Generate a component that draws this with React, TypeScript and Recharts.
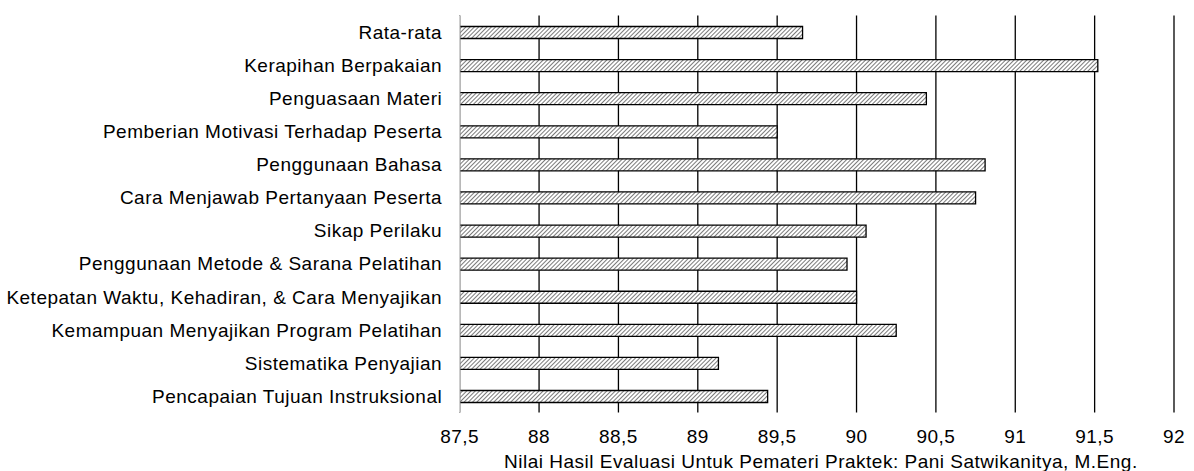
import React from 'react';
import {
  BarChart,
  Bar,
  XAxis,
  YAxis,
  CartesianGrid,
} from 'recharts';

const categories = [
  'Rata-rata',
  'Kerapihan Berpakaian',
  'Penguasaan Materi',
  'Pemberian Motivasi Terhadap Peserta',
  'Penggunaan Bahasa',
  'Cara Menjawab Pertanyaan Peserta',
  'Sikap Perilaku',
  'Penggunaan Metode & Sarana Pelatihan',
  'Ketepatan Waktu, Kehadiran, & Cara Menyajikan',
  'Kemampuan Menyajikan Program Pelatihan',
  'Sistematika Penyajian',
  'Pencapaian Tujuan Instruksional',
];

const scores = [89.66, 91.52, 90.44, 89.5, 90.81, 90.75, 90.06, 89.94, 90.0, 90.25, 89.13, 89.44];

const xTicks = [87.5, 88, 88.5, 89, 89.5, 90, 90.5, 91, 91.5, 92];

const axisTitle = 'Nilai Hasil Evaluasi Untuk Pemateri Praktek: Pani Satwikanitya, M.Eng.';

const data = categories.map((name, i) => ({ name, value: scores[i] }));

const font = 'Liberation Sans, Arial, sans-serif';
const textStyle = { fill: '#000', fontSize: 19, fontFamily: font, letterSpacing: 0.5 };

const App = () => {
  return (
    <div style={{ position: 'absolute', left: 0, top: 0, background: '#fff' }}>
      <BarChart
        width={1194}
        height={471}
        data={data}
        layout="vertical"
        margin={{ top: 15.5, right: 20, bottom: 0, left: 0 }}
        barSize={12}
      >
        <defs>
          <pattern
            id="hatch"
            width="3"
            height="3"
            patternUnits="userSpaceOnUse"
            patternTransform="rotate(45)"
          >
            <rect width="3" height="3" fill="#ffffff" />
            <line x1="0" y1="0" x2="0" y2="3" stroke="#333" strokeWidth="1.3" />
          </pattern>
        </defs>
        <CartesianGrid horizontal={false} stroke="#000" strokeWidth={1.3} />
        <XAxis
          type="number"
          domain={[87.5, 92]}
          ticks={xTicks}
          interval={0}
          height={58.4}
          axisLine={false}
          tickLine={false}
          tickSize={6}
          tickMargin={11}
          tick={textStyle}
          tickFormatter={(v: number) => String(v).replace('.', ',')}
          label={{
            value: axisTitle,
            position: 'insideBottom',
            offset: 3.3,
            dx: 4,
            ...textStyle,
          }}
        />
        <YAxis
          type="category"
          dataKey="name"
          width={459.7}
          interval={0}
          axisLine={{ stroke: '#d9d9d9', strokeWidth: 1.3 }}
          tickLine={false}
          tickSize={6}
          tickMargin={11.5}
          tick={textStyle}
        />
        <Bar
          dataKey="value"
          fill="url(#hatch)"
          stroke="#000"
          strokeWidth={1.3}
          isAnimationActive={false}
        />
      </BarChart>
    </div>
  );
};

export default App;
